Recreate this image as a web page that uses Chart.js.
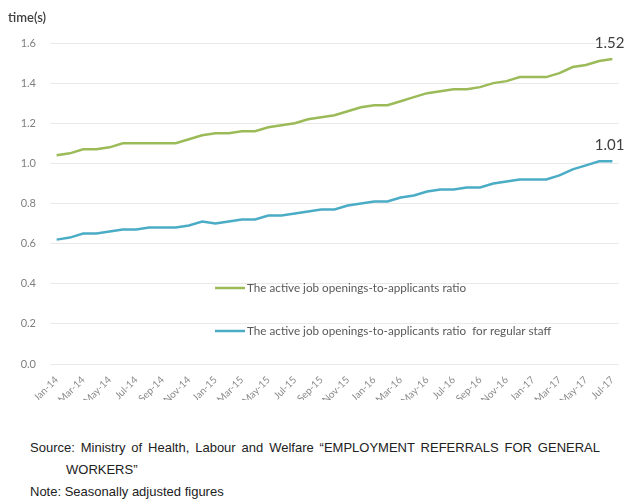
<!DOCTYPE html>
<html>
<head>
<meta charset="utf-8">
<script src="https://cdn.jsdelivr.net/npm/chart.js@4"></script>
<style>
  body { margin: 0; background: #fff; }
  #wrap { position: relative; width: 627px; height: 400px; }
  .foot {
    position: absolute;
    left: 30px;
    font-family: 'Liberation Sans Narrow', 'Liberation Sans', Arial, sans-serif;
    font-size: 13px;
    color: #222;
    line-height: 22px;
  }
  #source {
    top: 437px;
    width: 570px;
    box-sizing: border-box;
    padding-left: 36px;
    text-indent: -36px;
    text-align: justify;
  }
  #note { top: 481px; }
</style>
</head>
<body>
<div id="wrap"><canvas id="chart" width="627" height="400"></canvas></div>
<div class="foot" id="source">Source: Ministry of Health, Labour and Welfare “EMPLOYMENT REFERRALS FOR GENERAL WORKERS”</div>
<div class="foot" id="note">Note: Seasonally adjusted figures</div>

<script>
// Data ----------------------------------------------------------------------
const months = [
  'Jan-14', 'Feb-14', 'Mar-14', 'Apr-14', 'May-14', 'Jun-14', 'Jul-14', 'Aug-14', 'Sep-14', 'Oct-14', 'Nov-14', 'Dec-14',
  'Jan-15', 'Feb-15', 'Mar-15', 'Apr-15', 'May-15', 'Jun-15', 'Jul-15', 'Aug-15', 'Sep-15', 'Oct-15', 'Nov-15', 'Dec-15',
  'Jan-16', 'Feb-16', 'Mar-16', 'Apr-16', 'May-16', 'Jun-16', 'Jul-16', 'Aug-16', 'Sep-16', 'Oct-16', 'Nov-16', 'Dec-16',
  'Jan-17', 'Feb-17', 'Mar-17', 'Apr-17', 'May-17', 'Jun-17', 'Jul-17'
];

const ratioAll = [
  1.04, 1.05, 1.07, 1.07, 1.08, 1.10, 1.10, 1.10, 1.10, 1.10, 1.12, 1.14,
  1.15, 1.15, 1.16, 1.16, 1.18, 1.19, 1.20, 1.22, 1.23, 1.24, 1.26, 1.28,
  1.29, 1.29, 1.31, 1.33, 1.35, 1.36, 1.37, 1.37, 1.38, 1.40, 1.41, 1.43,
  1.43, 1.43, 1.45, 1.48, 1.49, 1.51, 1.52
];

const ratioRegular = [
  0.62, 0.63, 0.65, 0.65, 0.66, 0.67, 0.67, 0.68, 0.68, 0.68, 0.69, 0.71,
  0.70, 0.71, 0.72, 0.72, 0.74, 0.74, 0.75, 0.76, 0.77, 0.77, 0.79, 0.80,
  0.81, 0.81, 0.83, 0.84, 0.86, 0.87, 0.87, 0.88, 0.88, 0.90, 0.91, 0.92,
  0.92, 0.92, 0.94, 0.97, 0.99, 1.01, 1.01
];

const seriesNames = [
  'The active job openings-to-applicants ratio',
  'The active job openings-to-applicants ratio  for regular staff'
];
const seriesColors = ['#9bbb59', '#4bacc6'];

const Y_MIN = 0;
const Y_MAX = 1.6;
const Y_STEP = 0.2;

// Extra drawing: axis caption, end labels, in-plot legend --------------------
const extras = {
  id: 'extras',
  afterDatasetsDraw(chart) {
    const ctx = chart.ctx;
    ctx.save();

    // "time(s)" caption
    ctx.font = '600 13px Lato, sans-serif';
    ctx.fillStyle = '#404040';
    ctx.textBaseline = 'middle';
    ctx.textAlign = 'left';
    ctx.fillText('time(s)', 8, 18);

    // value at the end of each line
    ctx.font = '15px Lato, sans-serif';
    ctx.textAlign = 'right';
    chart.data.datasets.forEach((ds, i) => {
      const pts = chart.getDatasetMeta(i).data;
      const last = pts[pts.length - 1];
      ctx.fillText(ds.data[ds.data.length - 1].toFixed(2), last.x + 12, last.y - 16);
    });

    // legend inside the plot
    const rows = [288, 331];
    ctx.font = '11.7px Lato, sans-serif';
    ctx.textAlign = 'left';
    chart.data.datasets.forEach((ds, i) => {
      ctx.strokeStyle = ds.borderColor;
      ctx.lineWidth = 2.5;
      ctx.beginPath();
      ctx.moveTo(215, rows[i]);
      ctx.lineTo(245, rows[i]);
      ctx.stroke();
      ctx.fillStyle = '#595959';
      ctx.fillText(ds.label, 247, rows[i]);
    });

    ctx.restore();
  }
};

// Chart ---------------------------------------------------------------------
new Chart(document.getElementById('chart').getContext('2d'), {
  type: 'line',
  data: {
    labels: months,
    datasets: [
      { label: seriesNames[0], data: ratioAll, borderColor: seriesColors[0] },
      { label: seriesNames[1], data: ratioRegular, borderColor: seriesColors[1] }
    ].map(ds => ({ ...ds, borderWidth: 2.5, pointRadius: 0, tension: 0, fill: false }))
  },
  options: {
    responsive: false,
    animation: false,
    layout: { padding: { top: 43, right: 8, left: 0, bottom: 0 } },
    plugins: {
      legend: { display: false },
      tooltip: { enabled: false }
    },
    scales: {
      x: {
        offset: true,
        grid: { display: false },
        border: { display: false },
        afterFit: scale => { scale.height = 36; },
        ticks: {
          autoSkip: false,
          minRotation: 45,
          maxRotation: 45,
          padding: 2,
          color: '#8c8c8c',
          font: { family: 'Lato', size: 10 },
          callback: (val, i) => (i % 2 === 0 ? months[i] : '')
        }
      },
      y: {
        min: Y_MIN,
        max: Y_MAX,
        afterFit: scale => { scale.width = 50; },
        grid: { color: '#e9e9e9', lineWidth: 1, drawTicks: false },
        border: { display: false },
        ticks: {
          stepSize: Y_STEP,
          padding: 14,
          color: '#7f7f7f',
          font: { family: 'Lato', size: 11 },
          callback: v => v.toFixed(1)
        }
      }
    }
  },
  plugins: [extras]
});
</script>
</body>
</html>
